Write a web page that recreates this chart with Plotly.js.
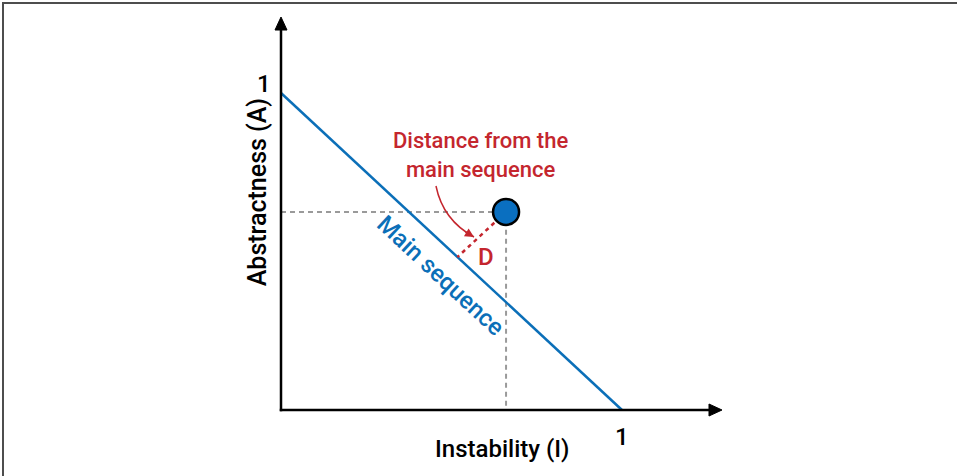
<!DOCTYPE html>
<html>
<head>
<meta charset="utf-8">
<script src="https://cdn.plot.ly/plotly-3.0.1.min.js"></script>
<style>
  html, body { margin: 0; padding: 0; background: #fff; }
  #wrap { position: relative; width: 957px; height: 476px; overflow: hidden; }
  #chart { position: absolute; left: 0; top: 0; width: 957px; height: 476px; }
  #frame { position: absolute; left: 2px; top: 2px; width: 2000px; height: 2000px;
           border-left: 2px solid #4d4d4d; border-top: 2px solid #4d4d4d; pointer-events: none; }
</style>
</head>
<body>
<div id="wrap"><div id="chart"></div><div id="frame"></div></div>
<script>
// ---- data ----
const mainSeqX = [0, 1];
const mainSeqY = [1, 0];
const pointI = [0.66];
const pointA = [0.625];
const tickLabels = ["1"];
const xTitle = "Instability (I)";
const yTitle = "Abstractness (A)";
const mainSeqLabel = "Main sequence";
const distanceLabel = "Distance from the<br>main sequence";
const dLabel = "D";
// curved pointer from the label to the D segment (start, control, end)
const pointerX = [0.4545, 0.475, 0.566];
const pointerY = [0.7066, 0.599, 0.5457];

// ---- derived ----
const PXX = 341, PXY = 317;            // pixels per data unit
const xMax = 1.2933, yMax = 1.2397;    // where the axis arrows end
const xRange = [-30 / PXX, 1.3813];    // plot area 251..752 px
const yRange = [-30 / PXY, 410 / PXY]; // plot area 440..0 px
const I = pointI[0], A = pointA[0];
// foot of perpendicular from the point to the line I + A = 1
const footI = (1 + I - A) / 2, footA = (1 - I + A) / 2;

const FONT = "'Roboto', 'Liberation Sans', sans-serif";
const W = 500;
const BLUE = "#0b6fb8";
const RED = "#c4262e";
const GREY = "#9a9a9a";

const traces = [
  { x: [0, I, I], y: [A, A, 0], mode: "lines", line: { color: GREY, width: 2, dash: "5px,4px" }, hoverinfo: "skip" },
  { x: mainSeqX, y: mainSeqY, mode: "lines", line: { color: BLUE, width: 2.5 }, hoverinfo: "skip" },
  { x: [I, footI], y: [A, footA], mode: "lines", line: { color: RED, width: 2.5, dash: "4px,4px" }, hoverinfo: "skip" },
  { x: pointI, y: pointA, mode: "markers", marker: { size: 26, color: "#0a6fc0", line: { color: "#000", width: 2.5 } }, hoverinfo: "skip" }
];

const hl = 13, hw = 6;
const shapes = [
  { type: "line", xref: "x", yref: "y", x0: -1.25 / PXX, y0: 0, x1: xMax - 6 / PXX, y1: 0, line: { color: "#000", width: 2.5 } },
  { type: "line", xref: "x", yref: "y", x0: 0, y0: -1.25 / PXY, x1: 0, y1: yMax - 6 / PXY, line: { color: "#000", width: 2.5 } },
  { type: "path", xref: "x", yref: "y",
    path: `M${xMax},0 L${xMax - hl / PXX},${hw / PXY} L${xMax - hl / PXX},${-hw / PXY} Z`,
    fillcolor: "#000", line: { color: "#000", width: 1 } },
  { type: "path", xref: "x", yref: "y",
    path: `M0,${yMax} L${-hw / PXX},${yMax - hl / PXY} L${hw / PXX},${yMax - hl / PXY} Z`,
    fillcolor: "#000", line: { color: "#000", width: 1 } },
  { type: "path", xref: "x", yref: "y",
    path: `M${pointerX[0]},${pointerY[0]} Q${pointerX[1]},${pointerY[1]} ${pointerX[2]},${pointerY[2]}`,
    line: { color: RED, width: 1.5 } }
];

const annotations = [
  { xref: "x", yref: "y", x: 0, y: 1, text: tickLabels[0], showarrow: false, xanchor: "right", yanchor: "middle",
    xshift: -8, yshift: 9, font: { family: FONT, size: 24, color: "#000", weight: W } },
  { xref: "x", yref: "y", x: 1, y: 0, text: tickLabels[0], showarrow: false, xanchor: "center", yanchor: "middle",
    yshift: -27, font: { family: FONT, size: 24, color: "#000", weight: W } },
  { xref: "x", yref: "y", x: 0.648, y: 0, text: xTitle, showarrow: false, xanchor: "center", yanchor: "middle",
    yshift: -39, font: { family: FONT, size: 24, color: "#000", weight: W } },
  { xref: "x", yref: "y", x: 0, y: 0.687, text: yTitle, showarrow: false, textangle: -90, xanchor: "center", yanchor: "middle",
    xshift: -24, font: { family: FONT, size: 25, color: "#000", weight: W } },
  { xref: "x", yref: "y", x: 0.469, y: 0.423, text: mainSeqLabel, showarrow: false, textangle: 42.9,
    font: { family: FONT, size: 24, color: BLUE, weight: W } },
  { xref: "x", yref: "y", x: 0.584, y: 0.804, text: distanceLabel, showarrow: false, align: "center",
    font: { family: FONT, size: 22, color: RED, weight: W } },
  { xref: "x", yref: "y", x: 0.601, y: 0.483, text: dLabel, showarrow: false,
    font: { family: FONT, size: 24, color: RED, weight: W } },
  { xref: "x", yref: "y", x: pointerX[2], y: pointerY[2], text: "", showarrow: true, arrowhead: 2, arrowsize: 1.2,
    arrowwidth: 1.5, arrowcolor: RED, ax: -10, ay: -6, standoff: 0 }
];

const layout = {
  width: 957, height: 476,
  margin: { l: 251, r: 205, t: 0, b: 36, pad: 0 },
  paper_bgcolor: "rgba(0,0,0,0)", plot_bgcolor: "rgba(0,0,0,0)",
  showlegend: false,
  xaxis: { range: xRange, showgrid: false, zeroline: false, showline: false, showticklabels: false, ticks: "", fixedrange: true },
  yaxis: { range: yRange, showgrid: false, zeroline: false, showline: false, showticklabels: false, ticks: "", fixedrange: true },
  shapes: shapes,
  annotations: annotations
};

Plotly.newPlot("chart", traces, layout, { staticPlot: true, displayModeBar: false });
</script>
</body>
</html>
